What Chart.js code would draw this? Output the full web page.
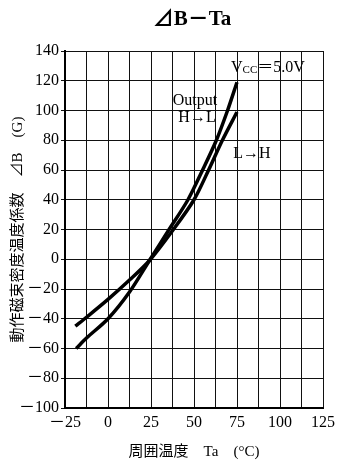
<!DOCTYPE html>
<html>
<head>
<meta charset="utf-8">
<script src="https://cdn.jsdelivr.net/npm/chart.js@4/dist/chart.umd.min.js"></script>
<style>
  body { margin: 0; background: #fff; }
  canvas { display: block; }
</style>
</head>
<body>
<canvas id="dbChart" width="340" height="468"></canvas>
<script>
// values (Ta in °C, ΔB in G)
const hlTemp  = [-18.5, -12.5, 0, 12.5, 24, 35.5, 46.5, 55, 63, 69.5, 75];
const hlDelta = [-60, -53, -40, -22, -1, 20, 40, 60, 80, 100, 119];
const lhTemp  = [-19, -12.5, 0, 12.5, 24, 38, 50, 58.5, 66.5, 75];
const lhDelta = [-45, -39, -27, -14, -1, 20, 40, 60, 80, 99];

const xTickValues = [-25, 0, 25, 50, 75, 100, 125];
const xTickLabels = ['－25', '0', '25', '50', '75', '100', '125'];
const yTickValues = [140, 120, 100, 80, 60, 40, 20, 0, -20, -40, -60, -80, -100];
const yTickLabels = ['140', '120', '100', '80', '60', '40', '20', '0', '－20', '－40', '－60', '－80', '－100'];

const serif = '"Liberation Serif", "DejaVu Serif", "Noto Sans CJK JP", serif';

const toPoints = (xs, ys) => xs.map((x, i) => ({ x: x, y: ys[i] }));

// title + in-plot notes
const notes = {
    id: 'notes',
    afterDraw(chart) {
        const ctx = chart.ctx;
        const area = chart.chartArea;
        const cx = (area.left + area.right) / 2;
        ctx.save();
        ctx.fillStyle = '#000';
        ctx.textBaseline = 'middle';

        ctx.font = 'bold 21px ' + serif;
        ctx.textAlign = 'center';
        ctx.fillText('⊿B－Ta', cx - 2, 20);

        // Vcc = 5.0V
        ctx.textAlign = 'left';
        let x = area.right - 92;
        const y = area.top + 17;
        ctx.font = '16px ' + serif;
        ctx.fillText('V', x, y);
        x += ctx.measureText('V').width;
        ctx.font = '11px ' + serif;
        ctx.fillText('CC', x, y + 2);
        x += ctx.measureText('CC').width;
        ctx.font = '16px ' + serif;
        ctx.fillText('＝5.0V', x, y);

        ctx.textAlign = 'center';
        ctx.font = '16px ' + serif;
        ctx.fillText('Output', 195, 101);
        ctx.fillText('H→L', 197, 118);
        ctx.fillText('L→H', 252, 154);
        ctx.restore();
    }
};

const ctx = document.getElementById('dbChart').getContext('2d');
new Chart(ctx, {
    type: 'scatter',
    data: {
        datasets: [{
            label: 'Output H→L',
            data: toPoints(hlTemp, hlDelta),
            showLine: true,
            borderColor: '#000',
            borderWidth: 3.5,
            pointRadius: 0,
            tension: 0.3
        }, {
            label: 'L→H',
            data: toPoints(lhTemp, lhDelta),
            showLine: true,
            borderColor: '#000',
            borderWidth: 3.5,
            pointRadius: 0,
            tension: 0.3
        }]
    },
    options: {
        responsive: false,
        animation: false,
        layout: { padding: { top: 51, right: 13, left: 0, bottom: 0 } },
        plugins: {
            legend: { display: false },
            tooltip: { enabled: false }
        },
        scales: {
            x: {
                type: 'linear',
                min: -25,
                max: 125,
                afterFit: s => { s.height = 60; },
                afterBuildTicks: s => {
                    s.ticks = [];
                    for (let v = -25; v <= 125; v += 12.5) s.ticks.push({ value: v });
                },
                ticks: {
                    autoSkip: false,
                    maxRotation: 0,
                    padding: 5,
                    color: '#000',
                    font: { family: serif, size: 16 },
                    callback: v => {
                        const i = xTickValues.indexOf(v);
                        return i >= 0 ? xTickLabels[i] : '';
                    }
                },
                grid: { color: '#111', lineWidth: 1, drawTicks: false },
                border: { color: '#000', width: 2 },
                title: {
                    display: true,
                    text: '周囲温度　Ta　(°C)',
                    color: '#000',
                    font: { family: serif, size: 15 },
                    padding: { top: 0, bottom: 7 }
                }
            },
            y: {
                type: 'linear',
                min: -100,
                max: 140,
                afterFit: s => { s.width = 65; },
                ticks: {
                    stepSize: 20,
                    autoSkip: false,
                    padding: 2,
                    color: '#000',
                    font: { family: serif, size: 16 },
                    callback: v => {
                        const i = yTickValues.indexOf(v);
                        return i >= 0 ? yTickLabels[i] : '';
                    }
                },
                grid: { color: '#111', lineWidth: 1, tickLength: 4 },
                border: { color: '#000', width: 2 },
                title: {
                    display: true,
                    text: '動作磁束密度温度係数　⊿B　(G)',
                    color: '#000',
                    font: { family: serif, size: 15 },
                    padding: { top: 9, bottom: 0 }
                }
            }
        }
    },
    plugins: [notes]
});
</script>
</body>
</html>
